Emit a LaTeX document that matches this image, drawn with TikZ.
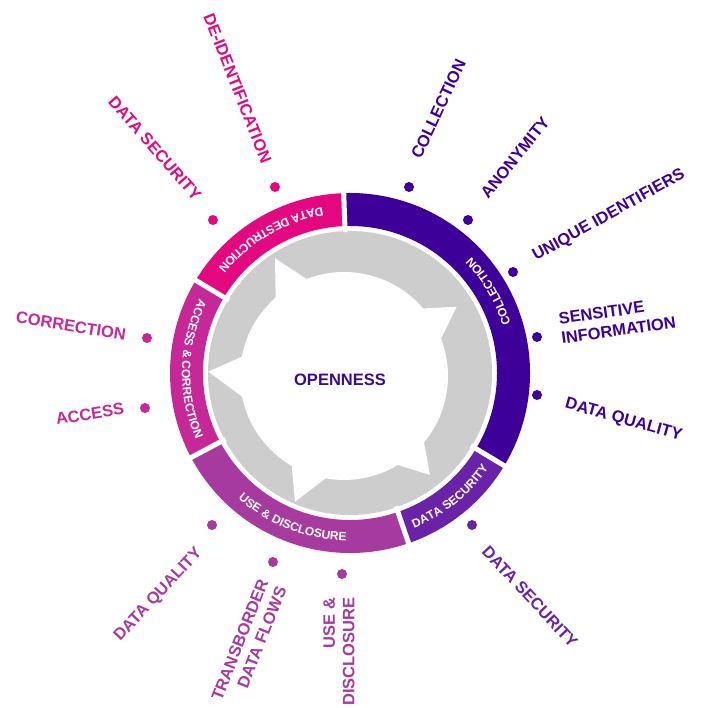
\documentclass[tikz,border=0pt]{standalone}
\usepackage{fontspec}
\setmainfont{Liberation Sans}
\usetikzlibrary{decorations.text}
\definecolor{colc}{RGB}{61,0,153}
\definecolor{secc}{RGB}{106,35,168}
\definecolor{usec}{RGB}{166,58,158}
\definecolor{accc}{RGB}{198,40,152}
\definecolor{desc}{RGB}{228,8,128}
\definecolor{ringgray}{RGB}{205,205,205}
\definecolor{opc}{RGB}{60,10,140}
\newcommand\bandfont{\fontsize{12}{13.5}\selectfont\bfseries}
\tikzset{
  dotmark/.style={circle, fill=#1, draw=none, inner sep=0pt, minimum size=10pt},
  outlabel/.style={text=#1, font=\fontsize{16.5}{19.5}\selectfont\bfseries, inner sep=0pt},
  seg/.style={fill=#1, draw=none},
  gapline/.style={draw=white, line width=5pt},
}
\begin{document}
\begin{tikzpicture}[x=1pt,y=1pt]
\useasboundingbox (0,0) rectangle (701,708);
\fill[white] (0,0) rectangle (701,708);
\coordinate (C) at (350,335);
\begin{scope}[shift={(C)}]
  % grey ring
  \fill[ringgray] (0,0) circle[radius=142];
  % white centre: circle with five arrow barbs
  \begin{scope}[shift={(-6,-3)}]
    \fill[white] (111.1:104) arc[start angle=111.1, end angle=40.5, radius=104]
      -- (112.7,69.3) -- (21.1:104) arc[start angle=21.1, end angle=-39.7, radius=104]
      -- (86,-99) -- (-58.8:104) arc[start angle=-58.8, end angle=-100.2, radius=104]
      -- (-49,-125.7) -- (-120.2:104) arc[start angle=-120.2, end angle=-168.6, radius=104]
      -- (-135.7,4.3) -- (169.3:104) arc[start angle=169.3, end angle=131.1, radius=104]
      -- (-69,117.7) -- cycle;
  \end{scope}
  % outer band segments
  \fill[seg=colc] (-31:180) arc[start angle=-31, end angle=92, radius=180] -- (92:147) arc[start angle=92, end angle=-31, radius=147] -- cycle;
  \fill[seg=secc] (-71:180) arc[start angle=-71, end angle=-31, radius=180] -- (-31:147) arc[start angle=-31, end angle=-71, radius=147] -- cycle;
  \fill[seg=usec] (208:180) arc[start angle=208, end angle=289, radius=180] -- (289:147) arc[start angle=289, end angle=208, radius=147] -- cycle;
  \fill[seg=accc] (149:180) arc[start angle=149, end angle=208, radius=180] -- (208:147) arc[start angle=208, end angle=149, radius=147] -- cycle;
  \fill[seg=desc] (92:180) arc[start angle=92, end angle=149, radius=180] -- (149:147) arc[start angle=149, end angle=92, radius=147] -- cycle;
  \foreach \a in {92,149,208,289,329} { \draw[gapline] (\a:141) -- (\a:186); }
  % band labels
  \path[decorate, decoration={text along path, text align=center, text color=white, text={|\bandfont|COLLECTION}}] (-31:168) arc[start angle=-31, end angle=92, radius=168];
  \path[decorate, decoration={text along path, text align=center, text color=white, text={|\bandfont|DATA SECURITY}}] (-71:168) arc[start angle=-71, end angle=-31, radius=168];
  \path[decorate, decoration={text along path, text align=center, text color=white, text={|\bandfont|USE {\&} DISCLOSURE}}] (208:168) arc[start angle=208, end angle=289, radius=168];
  \path[decorate, decoration={text along path, text align=center, text color=white, text={|\bandfont|ACCESS {\&} CORRECTION}}] (149:168) arc[start angle=149, end angle=208, radius=168];
  \path[decorate, decoration={text along path, text align=center, text color=white, text={|\bandfont|DATA DESTRUCTION}}] (92:168) arc[start angle=92, end angle=149, radius=168];
\end{scope}
\node[text=opc, font=\fontsize{16.5}{19}\selectfont\bfseries, inner sep=0pt] (open) at (340,328) {OPENNESS};
% collection
\node[dotmark=colc] (d1) at (409,521) {};
\node[outlabel=colc, rotate=65] (l1) at (438.5,599) {COLLECTION};
\node[dotmark=colc] (d2) at (468,488) {};
\node[outlabel=colc, rotate=51] (l2) at (515,550.5) {ANONYMITY};
\node[dotmark=colc] (d3) at (513,436) {};
\node[outlabel=colc, rotate=29.2] (l3) at (609,492.5) {UNIQUE IDENTIFIERS};
\node[dotmark=colc] (d4) at (537,371) {};
\node[outlabel=colc, rotate=8, anchor=west, align=left] (l4) at (560,379.5) {SENSITIVE\\INFORMATION};
\node[dotmark=colc] (d5) at (537,313) {};
\node[outlabel=colc, rotate=-15.5] (l5) at (623.5,288) {DATA QUALITY};
% data security
\node[dotmark=secc] (d6) at (472,183) {};
\node[outlabel=secc, rotate=-47] (l6) at (530,111) {DATA SECURITY};
% use & disclosure
\node[dotmark=usec] (d7) at (212,183) {};
\node[outlabel=usec, rotate=47] (l7) at (158.5,113) {DATA QUALITY};
\node[dotmark=usec] (d8) at (273,146) {};
\node[outlabel=usec, rotate=68.5, anchor=east, align=right] (l8) at (272.5,124.5) {TRANSBORDER\\DATA FLOWS};
\node[dotmark=usec] (d9) at (342,134) {};
\node[outlabel=usec, rotate=90, anchor=east, align=right] (l9) at (339,110.5) {USE \&\\DISCLOSURE};
% access & correction
\node[dotmark=accc] (d10) at (147,370) {};
\node[outlabel=accc, rotate=-9] (l10) at (71,382) {CORRECTION};
\node[dotmark=accc] (d11) at (145,300) {};
\node[outlabel=accc, rotate=9] (l11) at (90,294) {ACCESS};
% data destruction
\node[dotmark=desc] (d12) at (213,488) {};
\node[outlabel=desc, rotate=-48.8] (l12) at (155,559.5) {DATA SECURITY};
\node[dotmark=desc] (d13) at (275,521) {};
\node[outlabel=desc, rotate=-68.5] (l13) at (237.5,620) {DE-IDENTIFICATION};
\end{tikzpicture}
\end{document}
